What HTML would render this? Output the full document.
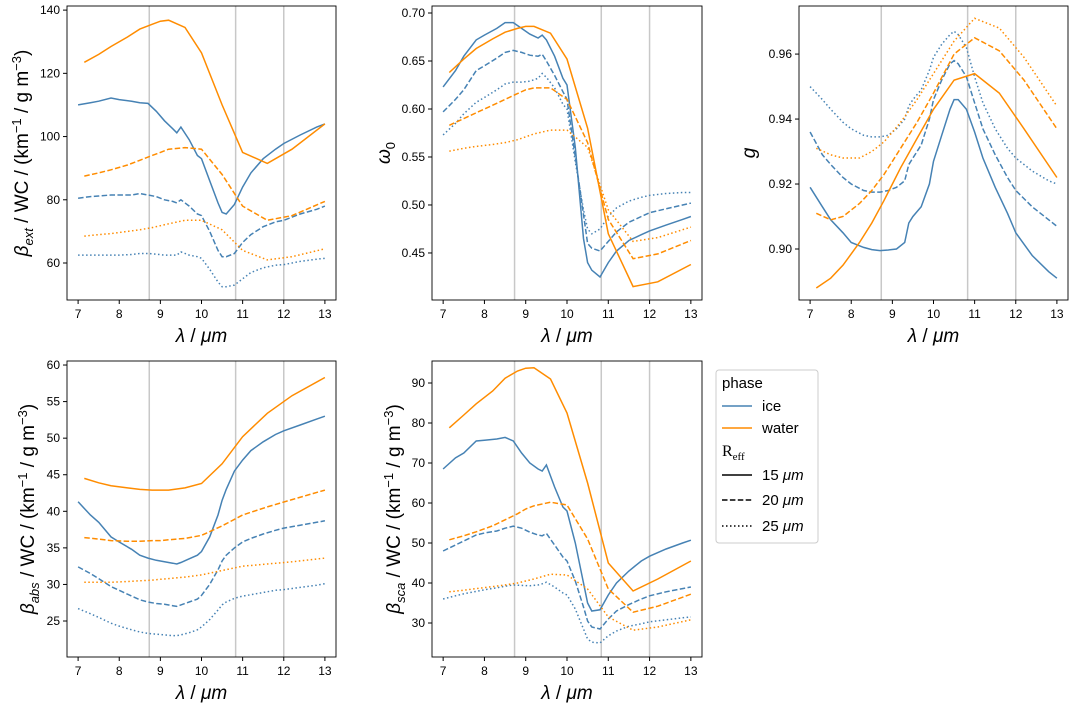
<!DOCTYPE html>
<html><head><meta charset="utf-8"><style>
body{margin:0;background:#fff;}
svg{display:block;font-family:"Liberation Sans","DejaVu Sans",sans-serif;}
</style></head><body>
<svg id="fig" width="1078" height="707" viewBox="0 0 1078 707" xmlns="http://www.w3.org/2000/svg"></svg>
<script>
const iceWl=[7.0,7.3,7.5,7.8,8.0,8.3,8.5,8.7,8.9,9.1,9.3,9.4,9.5,9.7,9.9,10.0,10.2,10.4,10.5,10.6,10.8,11.0,11.2,11.5,11.8,12.0,12.4,12.8,13.0];
const waterWl=[7.15,7.5,7.8,8.2,8.5,8.8,9.0,9.2,9.6,10.0,10.5,11.0,11.6,12.2,13.0];
const refLines=[8.73,10.83,12.0];
const xTicks=[7,8,9,10,11,12,13];

const extIce15=[110,110.7,111.2,112.2,111.7,111.2,110.7,110.5,108,105,102.5,101.2,103,99,94,93,86,79,76,75.5,78.5,84,88.5,93,96,97.8,100.5,103,104];
const extIce20=[80.5,81,81.2,81.5,81.5,81.5,82,81.5,81,80,79.5,79,80,78,75.5,75,70,64,62,62,63,66.5,69,71.5,73,73.5,75.5,77,78];
const extIce25=[62.5,62.5,62.5,62.5,62.5,62.7,63,63,62.8,62.5,62.5,62.5,63.5,62.5,62,61.5,58,54,52.5,52.5,53,55,57,58.5,59.3,59.5,60.5,61.2,61.5];
const extW15=[123.5,126,128.5,131.5,134,135.5,136.5,136.8,134.5,126.5,110,95,91.5,96,104];
const extW20=[87.5,88.5,89.5,91,92.5,94,95,96,96.5,96,88,78,73.5,75,79.5];
const extW25=[68.5,69,69.3,70,70.5,71.2,71.8,72.4,73.5,73.5,70.5,64,61,62,64.5];

const omIce15=[0.623,0.64,0.655,0.672,0.677,0.684,0.69,0.69,0.684,0.678,0.674,0.677,0.672,0.655,0.632,0.625,0.56,0.465,0.44,0.432,0.425,0.44,0.452,0.463,0.469,0.473,0.479,0.485,0.488];
const omIce20=[0.597,0.61,0.62,0.64,0.645,0.653,0.659,0.661,0.659,0.656,0.655,0.657,0.65,0.635,0.618,0.61,0.55,0.49,0.46,0.455,0.452,0.462,0.472,0.482,0.488,0.492,0.496,0.5,0.502];
const omIce25=[0.573,0.585,0.595,0.607,0.612,0.62,0.626,0.628,0.628,0.629,0.632,0.637,0.633,0.622,0.605,0.6,0.545,0.495,0.475,0.47,0.475,0.488,0.497,0.504,0.508,0.51,0.512,0.513,0.513];
const omW15=[0.638,0.652,0.663,0.673,0.68,0.684,0.686,0.686,0.679,0.652,0.58,0.47,0.415,0.42,0.438];
const omW20=[0.583,0.59,0.596,0.604,0.61,0.616,0.62,0.622,0.622,0.61,0.565,0.485,0.444,0.449,0.463];
const omW25=[0.556,0.559,0.561,0.563,0.565,0.568,0.571,0.574,0.578,0.578,0.56,0.495,0.462,0.466,0.477];

const gIce15=[0.919,0.913,0.909,0.905,0.902,0.9005,0.8998,0.8995,0.8997,0.9,0.902,0.908,0.91,0.913,0.92,0.927,0.935,0.943,0.946,0.946,0.943,0.936,0.928,0.919,0.911,0.905,0.898,0.893,0.891];
const gIce20=[0.936,0.929,0.926,0.922,0.92,0.918,0.9175,0.9175,0.918,0.919,0.921,0.926,0.928,0.932,0.94,0.946,0.952,0.957,0.958,0.957,0.953,0.945,0.937,0.929,0.922,0.918,0.913,0.909,0.907];
const gIce25=[0.95,0.946,0.943,0.939,0.937,0.935,0.9345,0.9345,0.935,0.937,0.94,0.944,0.946,0.949,0.955,0.959,0.963,0.966,0.967,0.966,0.962,0.953,0.945,0.937,0.931,0.928,0.924,0.921,0.92];
const gW15=[0.888,0.891,0.895,0.902,0.908,0.915,0.92,0.925,0.934,0.943,0.952,0.954,0.948,0.937,0.922];
const gW20=[0.911,0.909,0.91,0.914,0.918,0.923,0.927,0.931,0.939,0.948,0.96,0.965,0.961,0.952,0.937];
const gW25=[0.931,0.929,0.928,0.928,0.93,0.933,0.936,0.939,0.946,0.954,0.964,0.971,0.968,0.959,0.944];

const absIce15=[41.3,39.5,38.5,36.5,35.8,34.8,34,33.6,33.3,33.1,32.9,32.8,33,33.5,34,34.5,36.5,39.5,41.5,43,45.5,47,48.3,49.5,50.5,51,51.8,52.6,53];
const absIce20=[32.4,31.5,30.8,29.7,29.2,28.4,27.9,27.6,27.4,27.3,27.1,27,27.2,27.6,28,28.5,30,32,33.2,34,35,35.8,36.3,36.9,37.4,37.7,38.1,38.5,38.7];
const absIce25=[26.7,26,25.5,24.7,24.3,23.8,23.5,23.3,23.2,23.1,23,23,23.1,23.4,23.8,24.2,25.2,26.5,27.2,27.6,28.1,28.4,28.6,28.9,29.2,29.3,29.6,29.9,30.1];
const absW15=[44.5,43.9,43.5,43.2,43,42.9,42.9,42.9,43.2,43.8,46.5,50.2,53.4,55.8,58.3];
const absW20=[36.4,36.2,36,35.9,35.9,36,36,36.1,36.3,36.7,38,39.5,40.6,41.6,42.9];
const absW25=[30.3,30.3,30.3,30.4,30.5,30.6,30.7,30.8,31,31.3,31.9,32.5,32.8,33.1,33.6];

const scaIce15=[68.5,71.3,72.5,75.5,75.7,76,76.4,75.5,72.5,70,68.5,68,69.5,64,59,58,50,40,35,33,33.3,37,40,43,45.5,46.7,48.5,50,50.7];
const scaIce20=[48,49.5,50.5,52,52.5,53,53.7,54.2,53.7,52.7,52,51.8,52.4,49.5,46.5,45.5,40.5,34,30.5,29,28.5,31,33,34.6,36,36.8,37.8,38.6,39];
const scaIce25=[36,36.8,37.3,37.9,38.3,38.8,39.2,39.5,39.4,39.3,39.5,39.8,40.2,39,37.5,37,33.5,28.5,26,25.2,25,26.8,28,29.2,29.8,30.3,30.8,31.3,31.5];
const scaW15=[78.8,82,84.8,88,91.2,93,93.7,93.8,91,82.5,65,45,38,41,45.5];
const scaW20=[50.8,51.8,52.8,54.3,55.8,57.3,58.5,59.3,60.2,59.5,51,38.5,32.7,34.2,37.2];
const scaW25=[37.8,38.2,38.6,39.1,39.5,40,40.5,41,42.2,42,38.5,31.5,28.2,29,30.8];

const extTicks=[60,80,100,120,140];
const omTicks=[0.45,0.50,0.55,0.60,0.65,0.70];
const gTicks=[0.90,0.92,0.94,0.96];
const absTicks=[25,30,35,40,45,50,55,60];
const scaTicks=[30,40,50,60,70,80,90];

const NS="http://www.w3.org/2000/svg";
const svg=document.getElementById('fig');
const ICE="#4682b4", WATER="#ff8c00";
const DASH={15:null,20:"5.5,2.4",25:"1.5,2.5"};
function mk(tag,attrs,parent){const e=document.createElementNS(NS,tag);for(const k in attrs)e.setAttribute(k,attrs[k]);(parent||svg).appendChild(e);return e;}

function panel(p){
  const g=mk('g',{});
  
  
  const X=v=>p.x0+(v-p.xmin)/(p.xmax-p.xmin)*(p.x1-p.x0);
  const Y=v=>p.y1-(v-p.ymin)/(p.ymax-p.ymin)*(p.y1-p.y0);
  refLines.forEach(v=>{const l=mk('line',{x1:X(v),x2:X(v),y1:p.y0,y2:p.y1,stroke:'#c8c8c8','stroke-width':1.5},g);
    });
  p.series.forEach(s=>{
    const wl=s.ice?iceWl:waterWl;
    const d=s.v.map((v,i)=>(i?'L':'M')+X(wl[i]).toFixed(1)+','+Y(v).toFixed(1)).join('');
    const a={d:d,fill:'none',stroke:s.ice?ICE:WATER,'stroke-width':1.5};
    if(DASH[s.r])a['stroke-dasharray']=DASH[s.r];
    const path=mk('path',a,g);
    
    
  });
  const fr=mk('rect',{x:p.x0,y:p.y0,width:p.x1-p.x0,height:p.y1-p.y0,fill:'none',stroke:'#000','stroke-width':0.9},g);
  
  xTicks.forEach(t=>{const x=X(t);mk('line',{x1:x,x2:x,y1:p.y1,y2:p.y1+4,stroke:'#000'},g);
    const tx=mk('text',{x:x,y:p.y1+18,'font-size':12,'text-anchor':'middle'},g);tx.textContent=t;
    });
  p.ticks.forEach(t=>{const y=Y(t);mk('line',{x1:p.x0-4,x2:p.x0,y1:y,y2:y,stroke:'#000'},g);
    const tx=mk('text',{x:p.x0-7,y:y+4,'font-size':12,'text-anchor':'end'},g);tx.textContent=p.fmt(t);
    });
  const xl=mk('text',{x:(p.x0+p.x1)/2,y:p.y1+42,'font-size':19,'text-anchor':'middle'},g);
  xl.innerHTML='<tspan font-style="italic">λ</tspan> / <tspan font-style="italic">μm</tspan>';
  
  const cy=(p.y0+p.y1)/2;
  const yl=mk('text',{x:0,y:0,'font-size':19,'text-anchor':'middle',transform:`translate(${p.ylx},${cy}) rotate(-90)`},g);
  yl.innerHTML=p.ylabel;
  
}
const unit=' / WC / (km<tspan dy="-7" font-size="13">−1</tspan><tspan dy="7"> / g m</tspan><tspan dy="-7" font-size="13">−3</tspan><tspan dy="7">)</tspan>';
function S(i15,i20,i25,w15,w20,w25){return [{ice:1,r:15,v:i15},{ice:1,r:20,v:i20},{ice:1,r:25,v:i25},{ice:0,r:15,v:w15},{ice:0,r:20,v:w20},{ice:0,r:25,v:w25}];}
const f0=t=>String(t), f2=t=>t.toFixed(2);
panel({name:'extinction-panel',x0:67,x1:336,y0:6,y1:300,xmin:6.73,xmax:13.27,ymin:48.3,ymax:141.3,ticks:extTicks,fmt:f0,ylx:28,
  ylabel:'<tspan font-style="italic">β</tspan><tspan font-style="italic" font-size="13" dy="5">ext</tspan><tspan dy="-5">'+unit.replace(/^ /,' ')+'</tspan>',
  series:S(extIce15,extIce20,extIce25,extW15,extW20,extW25)});
panel({name:'single-scattering-albedo-panel',x0:432,x1:702,y0:6,y1:300,xmin:6.73,xmax:13.27,ymin:0.401,ymax:0.7073,ticks:omTicks,fmt:f2,ylx:390,
  ylabel:'<tspan font-style="italic">ω</tspan><tspan font-size="13" dy="5">0</tspan>',
  series:S(omIce15,omIce20,omIce25,omW15,omW20,omW25)});
panel({name:'asymmetry-panel',x0:799,x1:1068,y0:6,y1:300,xmin:6.73,xmax:13.27,ymin:0.8843,ymax:0.9748,ticks:gTicks,fmt:f2,ylx:755,
  ylabel:'<tspan font-style="italic">g</tspan>',
  series:S(gIce15,gIce20,gIce25,gW15,gW20,gW25)});
panel({name:'absorption-panel',x0:67,x1:336,y0:361,y1:657,xmin:6.73,xmax:13.27,ymin:20.08,ymax:60.55,ticks:absTicks,fmt:f0,ylx:34,
  ylabel:'<tspan font-style="italic">β</tspan><tspan font-style="italic" font-size="13" dy="5">abs</tspan><tspan dy="-5">'+unit+'</tspan>',
  series:S(absIce15,absIce20,absIce25,absW15,absW20,absW25)});
panel({name:'scattering-panel',x0:432,x1:702,y0:361,y1:657,xmin:6.73,xmax:13.27,ymin:21.5,ymax:95.5,ticks:scaTicks,fmt:f0,ylx:400,
  ylabel:'<tspan font-style="italic">β</tspan><tspan font-style="italic" font-size="13" dy="5">sca</tspan><tspan dy="-5">'+unit+'</tspan>',
  series:S(scaIce15,scaIce20,scaIce25,scaW15,scaW20,scaW25)});
</script>
<svg style="position:absolute;left:0;top:0" width="1078" height="707">
  <rect x="716" y="370" width="102" height="173" rx="3" fill="#fff" stroke="#ccc"/>
  <text x="722" y="388" font-size="15" font-family="Liberation Sans">phase</text>
  <line x1="722" x2="752" y1="406" y2="406" stroke="#4682b4" stroke-width="1.5"/>
  <text x="762" y="411" font-size="15" font-family="Liberation Sans">ice</text>
  <line x1="722" x2="752" y1="428" y2="428" stroke="#ff8c00" stroke-width="1.5"/>
  <text x="762" y="433" font-size="15" font-family="Liberation Sans">water</text>
  <text x="722" y="456" font-size="16" font-family="Liberation Serif">R<tspan font-size="11" dy="4">eff</tspan></text>
  <line x1="722" x2="752" y1="475" y2="475" stroke="#000" stroke-width="1.5"/>
  <text x="762" y="480" font-size="15" font-family="Liberation Sans">15 <tspan font-style="italic">μm</tspan></text>
  <line x1="722" x2="752" y1="500" y2="500" stroke="#000" stroke-width="1.5" stroke-dasharray="5.5,2.4"/>
  <text x="762" y="505" font-size="15" font-family="Liberation Sans">20 <tspan font-style="italic">μm</tspan></text>
  <line x1="722" x2="752" y1="526" y2="526" stroke="#000" stroke-width="1.5" stroke-dasharray="1.5,2.5"/>
  <text x="762" y="531" font-size="15" font-family="Liberation Sans">25 <tspan font-style="italic">μm</tspan></text>
</svg>
</body></html>
